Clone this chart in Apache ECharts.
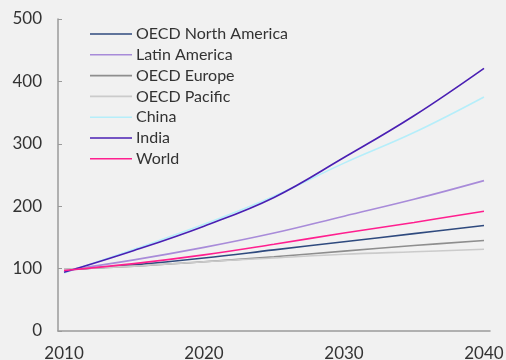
<html>
<head>
    <meta charset='UTF-8'>
    <title></title>
    <style>
        html, body { margin: 0; padding: 0; background: #f1f1f1; }
        #chart { width: 506px; height: 360px; }
    </style>
</head>
<body>
    <div id='chart'></div>
</body>
<script src='https://cdn.jsdelivr.net/npm/echarts@6/dist/echarts.min.js'></script>
<script>
    var years = [2010, 2015, 2020, 2025, 2030, 2035, 2040];
    var xTicks = [2010, 2020, 2030, 2040];
    var names = ['OECD North America', 'Latin America', 'OECD Europe', 'OECD Pacific', 'China', 'India', 'World'];
    var northAmerica = [98, 106, 117, 130, 143, 156, 169];
    var latinAmerica = [97, 114, 134, 157, 184, 211, 241];
    var europe = [99, 104, 111, 119, 128, 137, 145];
    var pacific = [99, 104, 111, 117, 123, 127, 131];
    var china = [93, 131, 171, 216, 269, 318, 375];
    var india = [94, 129, 168, 214, 278, 345, 421];
    var world = [97, 108, 122, 139, 157, 174, 192];
    var colors = ['#2f4a7e', '#a88bd9', '#8e8e8e', '#cbcbcb', '#b5eefa', '#4a1fb3', '#ff1f8f'];

    var model = {
        init: function () {
            var chart = echarts.init(document.getElementById('chart'));
            var all = [northAmerica, latinAmerica, europe, pacific, china, india, world];
            var series = [];
            for (var i = 0; i < names.length; i++) {
                series.push({
                    name: names[i],
                    type: 'line',
                    symbol: 'none',
                    smooth: 0.4,
                    silent: true,
                    lineStyle: { width: 1.6, color: colors[i] },
                    itemStyle: { color: colors[i] },
                    data: years.map(function (y, k) { return [y, all[i][k]]; })
                });
            }
            var option = {
                backgroundColor: '#f1f1f1',
                animation: false,
                textStyle: { fontFamily: 'Lato' },
                legend: {
                    orient: 'vertical',
                    left: 85,
                    top: 21,
                    padding: 5,
                    icon: 'rect',
                    itemWidth: 42,
                    itemHeight: 1.6,
                    itemGap: 4.8,
                    data: names,
                    textStyle: { fontSize: 16, lineHeight: 16, color: '#333', fontFamily: 'Lato', padding: [0, 0, 0, -1] }
                },
                grid: { left: 58, right: 16, top: 19, bottom: 29, outerBoundsMode: 'none', containLabel: false },
                xAxis: {
                    type: 'value',
                    min: 2009.57,
                    max: 2040.43,
                    splitLine: { show: false },
                    axisLine: { lineStyle: { color: '#9a9a9a', width: 1.5 } },
                    axisTick: { show: false },
                    axisLabel: {
                        customValues: xTicks,
                        formatter: function (v) { return String(v); },
                        fontSize: 17,
                        color: '#333',
                        margin: 14,
                        fontFamily: 'Lato'
                    }
                },
                yAxis: {
                    type: 'value',
                    min: 0,
                    max: 500,
                    interval: 100,
                    splitLine: { show: false },
                    axisLine: { show: true, lineStyle: { color: '#9a9a9a', width: 1.5 } },
                    axisTick: { show: true, inside: true, length: 4, lineStyle: { color: '#9a9a9a' } },
                    axisLabel: { fontSize: 17, color: '#333', margin: 16, fontFamily: 'Lato' }
                },
                series: series
            };
            chart.setOption(option);
        }
    };
    model.init();
</script>
</html>
